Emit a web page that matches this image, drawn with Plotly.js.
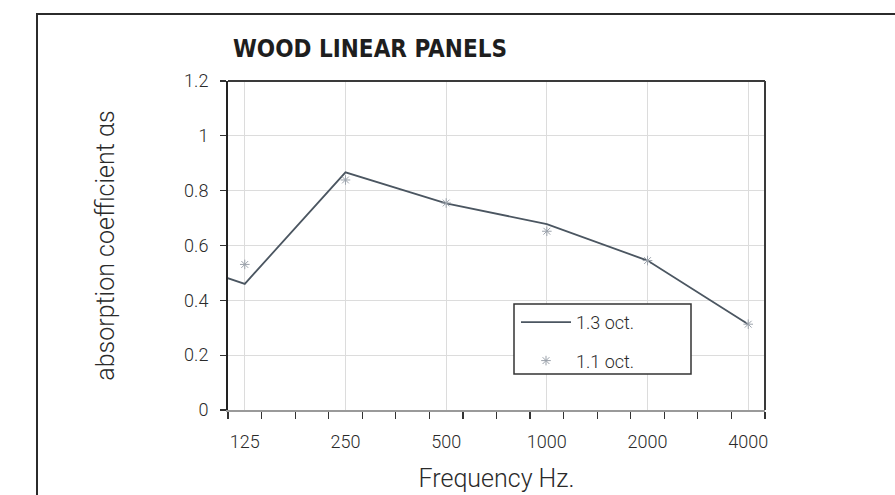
<!DOCTYPE html>
<html>
<head>
<meta charset="utf-8">
<script src="https://cdn.plot.ly/plotly-3.0.1.min.js"></script>
<style>
  html, body { margin: 0; padding: 0; background: #ffffff; }
  #wrap { position: relative; width: 895px; height: 495px; overflow: hidden; }
  #frame { position: absolute; left: 36px; top: 13px; width: 900px; height: 520px;
           border: 2px solid #2b2b2b; box-sizing: border-box; pointer-events: none; }
  #chart { position: absolute; left: 0; top: 0; width: 895px; height: 495px; }
</style>
</head>
<body>
<div id="wrap">
  <div id="frame"></div>
  <div id="chart"></div>
</div>
<script>
// ---- data ----
const chartTitle = "WOOD LINEAR PANELS";
const xTitle = "Frequency Hz.";
const yTitle = "absorption coefficient \u03b1s";

const thirdOctFreq  = [100, 125, 250, 500, 1000, 2000, 4000];
const thirdOctAlpha = [0.50, 0.46, 0.867, 0.754, 0.678, 0.545, 0.313];

const octFreq  = [125, 250, 500, 1000, 2000, 4000];
const octAlpha = [0.531, 0.839, 0.755, 0.652, 0.545, 0.313];

const seriesNames = ["1.3 oct.", "1.1 oct."];
const tickFreqs  = [125, 250, 500, 1000, 2000, 4000];
const tickLabels = ["125", "250", "500", "1000", "2000", "4000"];
const yTickVals  = [0, 0.2, 0.4, 0.6, 0.8, 1, 1.2];
const yTickLabels = ["0", "0.2", "0.4", "0.6", "0.8", "1", "1.2"];
const bandCount = 16; // third-octave bands shown, 125 .. 4000

// ---- layout helpers ----
const lg = Math.log10;
const halfBand = Math.pow(2, 1 / 6);
const xLo = tickFreqs[0] / halfBand;
const xHi = tickFreqs[tickFreqs.length - 1] * halfBand;
const bandEdges = [];
for (let k = 0; k <= bandCount; k++) bandEdges.push(xLo * Math.pow(2, k / 3));

const lightFont = "Roboto, 'Liberation Sans', Arial, sans-serif";

const traces = [
  {
    x: thirdOctFreq, y: thirdOctAlpha, name: seriesNames[0],
    type: "scatter", mode: "lines",
    line: { color: "#4b5661", width: 1.8 },
    legendgroup: "a"
  },
  {
    x: octFreq, y: octAlpha, name: seriesNames[1],
    type: "scatter", mode: "markers",
    marker: { symbol: "asterisk-open", size: 8, color: "#9aa1aa",
              line: { color: "#9aa1aa", width: 1 } },
    legendgroup: "b"
  }
];

const plotL = 228, plotR = 765, plotT = 81, plotB = 410;
const px2x = v => (v - plotL) / (plotR - plotL);
const px2y = v => (plotB - v) / (plotB - plotT);

const layout = {
  width: 895, height: 495,
  margin: { l: plotL, r: 895 - plotR, t: plotT, b: 495 - plotB, pad: 0 },
  paper_bgcolor: "rgba(0,0,0,0)",
  plot_bgcolor: "#ffffff",
  showlegend: true,
  title: {
    text: "<b>" + chartTitle + "</b>",
    font: { family: "'Liberation Sans Narrow', 'DejaVu Sans Condensed', 'Roboto Condensed', 'Noto Sans', sans-serif",
            size: 24, color: "#1e1e1e" },
    x: 370 / 895, xref: "container", xanchor: "center",
    y: 1 - 49 / 495, yref: "container", yanchor: "middle"
  },
  xaxis: {
    type: "log",
    range: [lg(xLo), lg(xHi)],
    tickmode: "array", tickvals: tickFreqs, ticktext: tickLabels,
    ticks: "", ticklabelstandoff: 14,
    tickfont: { family: lightFont, size: 18, color: "#2a2a2a", weight: 300 },
    showgrid: true, gridcolor: "#dcdcdc", gridwidth: 1,
    showline: true, linecolor: "#9a9a9a", linewidth: 2,
    zeroline: false,
    minor: { tickmode: "array", tickvals: bandEdges, ticks: "outside",
             ticklen: 7, tickwidth: 1.2, tickcolor: "#333", showgrid: false },
    title: { text: xTitle, standoff: 19,
             font: { family: lightFont, size: 25, color: "#2a2a2a", weight: 300 } },
    fixedrange: true
  },
  yaxis: {
    range: [0, 1.2],
    tickmode: "array", tickvals: yTickVals, ticktext: yTickLabels,
    ticks: "outside", ticklen: 6, tickwidth: 1.2, tickcolor: "#333",
    ticklabelstandoff: 8,
    tickfont: { family: lightFont, size: 18, color: "#2a2a2a", weight: 300 },
    showgrid: true, gridcolor: "#dcdcdc", gridwidth: 1,
    showline: true, linecolor: "#222", linewidth: 2,
    zeroline: false,
    title: { text: yTitle, standoff: 62,
             font: { family: lightFont, size: 25, color: "#2a2a2a", weight: 300 } },
    fixedrange: true
  },
  legend: {
    x: px2x(516), xanchor: "left", y: px2y(304), yanchor: "top",
    bgcolor: "rgba(0,0,0,0)", borderwidth: 0,
    font: { family: lightFont, size: 18, color: "#2a2a2a", weight: 300 },
    traceorder: "grouped", tracegroupgap: 12,
    itemwidth: 50
  },
  shapes: [
    { type: "rect", xref: "paper", yref: "paper",
      x0: px2x(514), x1: px2x(691), y0: px2y(374), y1: px2y(304),
      fillcolor: "#ffffff", line: { color: "#333", width: 1.5 }, layer: "above" },
    { type: "line", xref: "paper", yref: "paper", x0: 0, x1: 1, y0: 1, y1: 1,
      line: { color: "#3a3a3a", width: 2 }, layer: "above" },
    { type: "line", xref: "paper", yref: "paper", x0: 1, x1: 1, y0: 0, y1: 1,
      line: { color: "#3a3a3a", width: 2 }, layer: "above" }
  ]
};

Plotly.newPlot("chart", traces, layout, { displayModeBar: false, staticPlot: true });
</script>
</body>
</html>
